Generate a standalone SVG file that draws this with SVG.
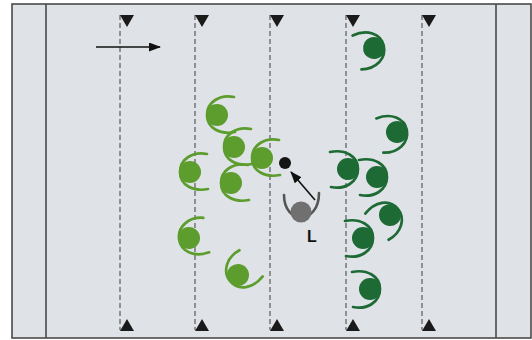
<svg xmlns="http://www.w3.org/2000/svg" xmlns:xlink="http://www.w3.org/1999/xlink" width="532" height="340" viewBox="0 0 532 340">
<style>
.frame{fill:none;stroke:#4a4a4a;stroke-width:1.6}
.lane{stroke:#4d4d4d;stroke-width:1.1;stroke-dasharray:5 3;fill:none}
.cone{fill:#1a1a1a}
.lg{stroke:#5c9d2e;fill:none}
.lgf{fill:#5c9d2e}
.dg{stroke:#1d6a35;fill:none}
.dgf{fill:#1d6a35}
.lbl{font-family:"Liberation Sans",Arial,sans-serif;font-weight:bold;font-size:16px;fill:#111}
</style>
<defs>
<path id="arc" d="M17,-18 C3,-21 -10,-13 -10,0 C-10,13 3,20 18,17" stroke-width="2.7" stroke-linecap="round"/>
<marker id="ah" markerWidth="12" markerHeight="9" refX="11" refY="4.5" orient="auto" markerUnits="userSpaceOnUse">
<path d="M0,0 L12,4.5 L0,9 Z" fill="#111"/>
</marker>
</defs>
<rect x="0" y="0" width="532" height="340" fill="#ffffff"/>
<rect x="12" y="4" width="519" height="334" fill="#dfe2e6"/>
<g id="field">
<rect class="frame" x="12" y="4" width="519" height="334"/>
<line class="frame" x1="46" y1="4" x2="46" y2="338"/>
<line class="frame" x1="496" y1="4" x2="496" y2="338"/>
<line class="lane" x1="120" y1="15" x2="120" y2="330"/>
<line class="lane" x1="195" y1="15" x2="195" y2="330"/>
<line class="lane" x1="270" y1="15" x2="270" y2="330"/>
<line class="lane" x1="346" y1="15" x2="346" y2="330"/>
<line class="lane" x1="422" y1="15" x2="422" y2="330"/>
<path class="cone" d="M120,15 h14 l-7,12 z M195,15 h14 l-7,12 z M270,15 h14 l-7,12 z M346,15 h14 l-7,12 z M422,15 h14 l-7,12 z"/>
<path class="cone" d="M120,331 h14 l-7,-12 z M195,331 h14 l-7,-12 z M270,331 h14 l-7,-12 z M346,331 h14 l-7,-12 z M422,331 h14 l-7,-12 z"/>
</g>
<g id="connectors">
<line x1="96" y1="47" x2="160" y2="47" stroke="#111" stroke-width="1.6" marker-end="url(#ah)"/>
<line x1="315" y1="200" x2="291" y2="172" stroke="#111" stroke-width="1.6" marker-end="url(#ah)"/>
</g>
<g id="p1" transform="translate(217,115)"><use xlink:href="#arc" class="lg"/><circle r="11" class="lgf"/></g>
<g id="p2" transform="translate(234,147)"><use xlink:href="#arc" class="lg"/><circle r="11" class="lgf"/></g>
<g id="p3" transform="translate(262,158)"><use xlink:href="#arc" class="lg"/><circle r="11" class="lgf"/></g>
<g id="p4" transform="translate(190,172)"><use xlink:href="#arc" class="lg"/><circle r="11" class="lgf"/></g>
<g id="p5" transform="translate(231,183)"><use xlink:href="#arc" class="lg"/><circle r="11" class="lgf"/></g>
<g id="p6" transform="translate(189,238) rotate(-8)"><use xlink:href="#arc" class="lg"/><circle r="11" class="lgf"/></g>
<g id="p7" transform="translate(238,275) rotate(-40)"><use xlink:href="#arc" class="lg"/><circle r="11" class="lgf"/></g>
<g id="d1" transform="translate(374,48) rotate(167)"><use xlink:href="#arc" class="dg"/><circle r="11" class="dgf"/></g>
<g id="d2" transform="translate(397,132) rotate(170)"><use xlink:href="#arc" class="dg"/><circle r="11" class="dgf"/></g>
<g id="d3" transform="translate(348,169) rotate(180)"><use xlink:href="#arc" class="dg"/><circle r="11" class="dgf"/></g>
<g id="d4" transform="translate(377,177) rotate(180)"><use xlink:href="#arc" class="dg"/><circle r="11" class="dgf"/></g>
<g id="d5" transform="translate(390,215) rotate(140)"><use xlink:href="#arc" class="dg"/><circle r="11" class="dgf"/></g>
<g id="d6" transform="translate(363,238) rotate(180)"><use xlink:href="#arc" class="dg"/><circle r="11" class="dgf"/></g>
<g id="d7" transform="translate(370,289) rotate(180)"><use xlink:href="#arc" class="dg"/><circle r="11" class="dgf"/></g>
<g id="ball"><circle cx="285" cy="163" r="6" fill="#151515"/></g>
<g id="leader">
<path d="M284,195 C284,225 319,225 319,193" fill="none" stroke="#555" stroke-width="2.6" stroke-linecap="round"/>
<circle cx="301" cy="212" r="10.5" fill="#707070"/>
<text class="lbl" x="307" y="242">L</text>
</g>
</svg>
